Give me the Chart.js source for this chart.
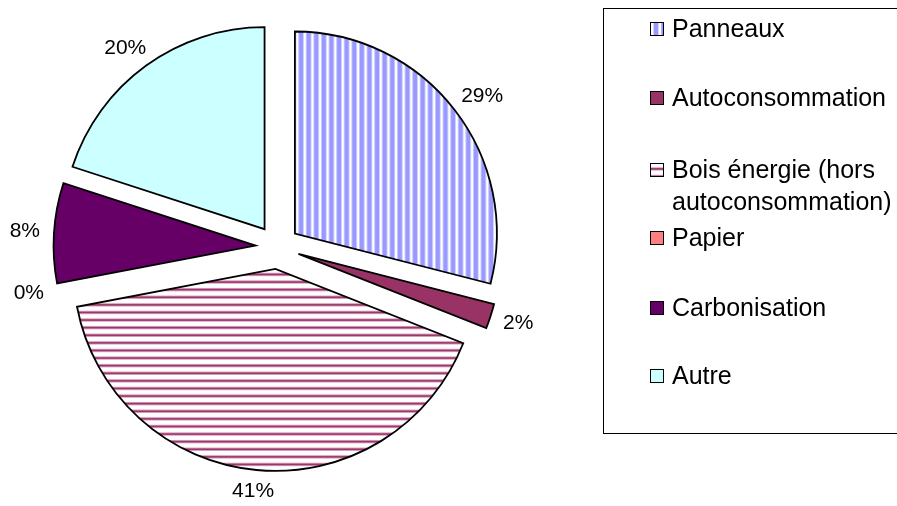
<!DOCTYPE html>
<html>
<head>
<meta charset="utf-8">
<script src="https://cdn.jsdelivr.net/npm/chart.js@4.4.0/dist/chart.umd.min.js"></script>
<style>
  html, body { margin: 0; padding: 0; background: #fff; }
  #wrap { position: relative; width: 897px; height: 506px; }
</style>
</head>
<body>
<div id="wrap"><canvas id="pieChart" width="897" height="506"></canvas></div>
<script>
// chart data
const categories = ['Panneaux', 'Autoconsommation', 'Bois énergie (hors autoconsommation)', 'Papier', 'Carbonisation', 'Autre'];
const legendLines = [['Panneaux'], ['Autoconsommation'], ['Bois énergie (hors', 'autoconsommation)'], ['Papier'], ['Carbonisation'], ['Autre']];
const shares = [29, 2, 41, 0, 8, 20];

const EXPLODE = 22;   // px each slice is pulled out
const LABEL_GAP = 14;
const FONT = '"Liberation Sans", Arial, sans-serif';

// excel-like stripe fills
function stripes(vertical, draw) {
    const c = document.createElement('canvas');
    c.width = 38; c.height = 38;
    const g = c.getContext('2d');
    g.fillStyle = '#fff';
    g.fillRect(0, 0, 38, 38);
    for (let i = 0; i < 5; i++) draw(g, i * 7.6, vertical);
    return g.createPattern(c, 'repeat');
}
function band(g, p, vertical, w, color) {
    g.fillStyle = color;
    if (vertical) g.fillRect(p, 0, w, 38); else g.fillRect(0, p, 38, w);
}
const fills = [
    stripes(true, (g, p, v) => { band(g, p, v, 4.8, '#9999ff'); }),
    '#993366',
    stripes(false, (g, p, v) => { band(g, p, v, 3.4, '#d9a3c2'); band(g, p + 0.9, v, 1.6, '#993366'); }),
    '#ff8080',
    '#660066',
    '#ccffff'
];

const total = shares.reduce((a, b) => a + b, 0);
const percentLabels = shares.map(v => Math.round(v / total * 100) + '%');

// pull every slice out along its middle angle
const explodeSlices = {
    id: 'explodeSlices',
    afterDatasetUpdate(chart, args) {
        args.meta.data.forEach(arc => {
            if (arc._exploded) return;
            arc._exploded = true;
            const baseDraw = arc.draw;
            arc.draw = function (ctx) {
                const mid = (this.startAngle + this.endAngle) / 2;
                ctx.save();
                ctx.translate(Math.cos(mid) * EXPLODE, Math.sin(mid) * EXPLODE);
                baseDraw.call(this, ctx);
                ctx.restore();
            };
        });
    }
};

const sliceLabels = {
    id: 'sliceLabels',
    afterDatasetsDraw(chart) {
        const g = chart.ctx;
        const meta = chart.getDatasetMeta(0);
        g.save();
        g.font = '21px ' + FONT;
        g.fillStyle = '#000';
        g.textAlign = 'center';
        g.textBaseline = 'middle';
        meta.data.forEach((arc, i) => {
            const mid = (arc.startAngle + arc.endAngle) / 2;
            const cx = Math.cos(mid), cy = Math.sin(mid);
            const text = percentLabels[i];
            const w = g.measureText(text).width, h = 15;
            const r = EXPLODE + arc.outerRadius + LABEL_GAP;
            g.fillText(text, arc.x + cx * r + cx * w / 2, arc.y + cy * r + cy * h / 2);
        });
        g.restore();
    }
};

const legendBox = {
    id: 'legendBox',
    afterDraw(chart) {
        const g = chart.ctx;
        const rows = [37, 106, 178, 246, 316, 384];
        g.save();
        g.strokeStyle = '#000';
        g.lineWidth = 1;
        g.strokeRect(603.5, 8.5, 400, 425);
        g.font = '25px ' + FONT;
        g.fillStyle = '#000';
        g.textBaseline = 'alphabetic';
        legendLines.forEach((lines, i) => {
            const base = rows[i];
            g.fillStyle = fills[i];
            g.fillRect(650, base - 15, 14, 14);
            g.strokeRect(650.5, base - 14.5, 13, 13);
            g.fillStyle = '#000';
            lines.forEach((t, j) => g.fillText(t, 672, base + j * 32));
        });
        g.restore();
    }
};

new Chart(document.getElementById('pieChart'), {
    type: 'pie',
    data: {
        labels: categories,
        datasets: [{
            data: shares,
            backgroundColor: fills,
            borderColor: '#000',
            borderWidth: 1.8,
            borderJoinStyle: 'miter',
            hoverOffset: 0
        }]
    },
    options: {
        responsive: false,
        animation: false,
        devicePixelRatio: 1,
        events: [],
        radius: 202,
        layout: { padding: { left: 37, right: 379, top: 0, bottom: 12 } },
        plugins: {
            legend: { display: false },
            tooltip: { enabled: false }
        }
    },
    plugins: [explodeSlices, sliceLabels, legendBox]
});
</script>
</body>
</html>
